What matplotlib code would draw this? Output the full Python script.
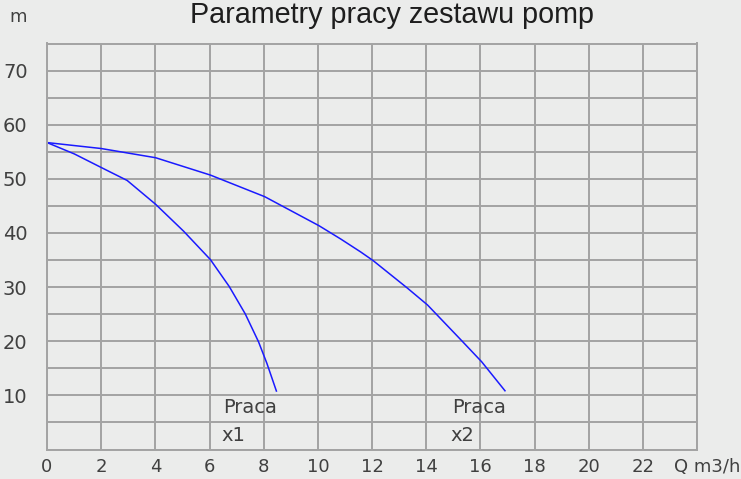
import matplotlib
matplotlib.use("Agg")
import matplotlib.pyplot as plt
import matplotlib.transforms as mtransforms

# pump curves (Q in m3/h, H in m)
q_x1 = [0, 1.01, 2.0, 2.96, 4.01, 5.05, 6.03, 6.73, 7.32, 7.81, 8.12, 8.47]
h_x1 = [56.7, 54.6, 52.1, 49.7, 45.3, 40.3, 35.1, 30.1, 25.05, 19.9, 15.9, 10.8]
q_x2 = [0, 2.0, 4.01, 6.03, 8.04, 10.04, 10.84, 11.58, 12.04, 13.31, 14.05, 15.35, 16.05, 16.91]
h_x2 = [56.7, 55.6, 53.9, 50.7, 46.7, 41.35, 38.9, 36.5, 34.9, 29.8, 26.7, 19.9, 16.2, 10.85]
x_ticks = list(range(0, 24, 2))
y_ticks = list(range(0, 76, 5))
y_labels = [str(v) if v % 10 == 0 and v > 0 else "" for v in y_ticks]

bg = "#ebeceb"
grid_c = "#a3a3a3"
txt_c = "#404040"
cad = dict(family="DejaVu Sans", weight="normal")

fig = plt.figure(figsize=(7.41, 4.79), dpi=100, facecolor=bg)
ax = fig.add_axes([47 / 741, (479 - 449.5) / 479, 650 / 741, 406 / 479])
ax.set_facecolor(bg)
ax.set_xlim(0, 24)
ax.set_ylim(0, 75)

ax.set_xticks(x_ticks + [24])
ax.set_xticklabels([str(v) for v in x_ticks] + [""], fontdict=cad, fontsize=13, color=txt_c)
ax.set_yticks(y_ticks)
ax.set_yticklabels(y_labels, fontdict=cad, fontsize=14, color=txt_c)
ax.tick_params(axis="both", length=0)
ax.tick_params(axis="x", pad=6)
ax.tick_params(axis="y", pad=14)
ax.grid(True, color=grid_c, linewidth=1.4)
ax.set_axisbelow(True)
for s in ax.spines.values():
    s.set_color(grid_c)
    s.set_linewidth(1.4)

ax.plot(q_x1, h_x1, color="#1a1aff", linewidth=1.1)
ax.plot(q_x2, h_x2, color="#1a1aff", linewidth=1.1)

ax.text(6.52, 7.8, "Praca", fontdict=cad, fontsize=14, color=txt_c, va="center", ha="left")
ax.text(6.45, 2.6, "x1", fontdict=cad, fontsize=14, color=txt_c, va="center", ha="left")
ax.text(14.96, 7.8, "Praca", fontdict=cad, fontsize=14, color=txt_c, va="center", ha="left")
ax.text(14.89, 2.6, "x2", fontdict=cad, fontsize=14, color=txt_c, va="center", ha="left")

trans = mtransforms.blended_transform_factory(ax.transData, fig.transFigure)
ax.text(23.15, 1 - 467 / 479, "Q m3/h", fontdict=cad, fontsize=13, color=txt_c,
        va="center", ha="left", transform=trans, clip_on=False)

fig.text(18 / 741, 1 - 17 / 479, "m", fontdict=cad, fontsize=13, color=txt_c, va="center", ha="center")
fig.text(392 / 741, 1 - 15 / 479, "Parametry pracy zestawu pomp", family="Liberation Sans",
         fontsize=20.7, color="#1e1e1e", va="center", ha="center")

fig.savefig("out.png", dpi=100, facecolor=bg)
